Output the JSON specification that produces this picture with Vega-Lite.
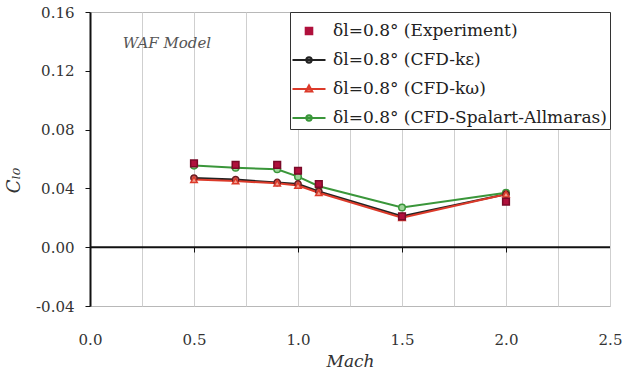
{
  "$schema": "https://vega.github.io/schema/vega-lite/v6.json",
  "width": 520,
  "height": 294,
  "autosize": {"type": "none"},
  "padding": {"left": 90, "top": 12, "right": 23, "bottom": 68},
  "background": "white",
  "config": {
    "font": "DejaVu Serif",
    "view": {"stroke": "#b8b8b8", "strokeWidth": 1},
    "axis": {
      "labelFont": "DejaVu Serif",
      "labelFontSize": 15,
      "labelColor": "#333333",
      "titleFont": "DejaVu Serif",
      "titleFontSize": 17,
      "titleFontStyle": "italic",
      "titleFontWeight": "normal",
      "titleColor": "#333333",
      "gridColor": "#cfcfcf",
      "gridWidth": 1
    }
  },
  "data": {
    "values": [
      {"Mach": 0.5, "Cl": 0.057, "series": "δl=0.8° (Experiment)"},
      {"Mach": 0.7, "Cl": 0.056, "series": "δl=0.8° (Experiment)"},
      {"Mach": 0.9, "Cl": 0.056, "series": "δl=0.8° (Experiment)"},
      {"Mach": 1.0, "Cl": 0.052, "series": "δl=0.8° (Experiment)"},
      {"Mach": 1.1, "Cl": 0.043, "series": "δl=0.8° (Experiment)"},
      {"Mach": 1.5, "Cl": 0.021, "series": "δl=0.8° (Experiment)"},
      {"Mach": 2.0, "Cl": 0.031, "series": "δl=0.8° (Experiment)"},
      {"Mach": 0.5, "Cl": 0.047, "series": "δl=0.8° (CFD-kε)"},
      {"Mach": 0.7, "Cl": 0.046, "series": "δl=0.8° (CFD-kε)"},
      {"Mach": 0.9, "Cl": 0.044, "series": "δl=0.8° (CFD-kε)"},
      {"Mach": 1.0, "Cl": 0.043, "series": "δl=0.8° (CFD-kε)"},
      {"Mach": 1.1, "Cl": 0.038, "series": "δl=0.8° (CFD-kε)"},
      {"Mach": 1.5, "Cl": 0.021, "series": "δl=0.8° (CFD-kε)"},
      {"Mach": 2.0, "Cl": 0.036, "series": "δl=0.8° (CFD-kε)"},
      {"Mach": 0.5, "Cl": 0.046, "series": "δl=0.8° (CFD-kω)"},
      {"Mach": 0.7, "Cl": 0.045, "series": "δl=0.8° (CFD-kω)"},
      {"Mach": 0.9, "Cl": 0.0435, "series": "δl=0.8° (CFD-kω)"},
      {"Mach": 1.0, "Cl": 0.042, "series": "δl=0.8° (CFD-kω)"},
      {"Mach": 1.1, "Cl": 0.037, "series": "δl=0.8° (CFD-kω)"},
      {"Mach": 1.5, "Cl": 0.020, "series": "δl=0.8° (CFD-kω)"},
      {"Mach": 2.0, "Cl": 0.036, "series": "δl=0.8° (CFD-kω)"},
      {"Mach": 0.5, "Cl": 0.0555, "series": "δl=0.8° (CFD-Spalart-Allmaras)"},
      {"Mach": 0.7, "Cl": 0.054, "series": "δl=0.8° (CFD-Spalart-Allmaras)"},
      {"Mach": 0.9, "Cl": 0.053, "series": "δl=0.8° (CFD-Spalart-Allmaras)"},
      {"Mach": 1.0, "Cl": 0.048, "series": "δl=0.8° (CFD-Spalart-Allmaras)"},
      {"Mach": 1.1, "Cl": 0.0415, "series": "δl=0.8° (CFD-Spalart-Allmaras)"},
      {"Mach": 1.5, "Cl": 0.027, "series": "δl=0.8° (CFD-Spalart-Allmaras)"},
      {"Mach": 2.0, "Cl": 0.037, "series": "δl=0.8° (CFD-Spalart-Allmaras)"}
    ]
  },
  "resolve": {"axis": {"x": "independent"}},
  "layer": [
    {
      "data": {"values": [{}]},
      "mark": {"type": "rule", "color": "#111111", "strokeWidth": 2},
      "encoding": {
        "x": {
          "datum": 0,
          "type": "quantitative",
          "scale": {"domain": [0, 2.5], "nice": false, "zero": false},
          "axis": {
            "orient": "bottom",
            "offset": -59,
            "values": [0.5, 1.0, 1.5, 2.0],
            "labels": false,
            "grid": false,
            "domain": false,
            "ticks": true,
            "tickColor": "#111111",
            "tickSize": 5,
            "tickWidth": 1,
            "title": null
          }
        },
        "x2": {"datum": 2.5},
        "y": {"datum": 0, "type": "quantitative"}
      }
    },
    {
      "transform": [{"filter": "indexof(datum.series, 'Experiment') < 0"}],
      "mark": {"type": "line", "strokeWidth": 2},
      "encoding": {
        "x": {
          "field": "Mach",
          "type": "quantitative",
          "scale": {"domain": [0, 2.5], "nice": false, "zero": false},
          "axis": {
            "orient": "bottom",
            "values": [0, 0.25, 0.5, 0.75, 1.0, 1.25, 1.5, 1.75, 2.0, 2.25, 2.5],
            "labelExpr": "(datum.value * 2) % 1 === 0 ? format(datum.value, '.1f') : ''",
            "ticks": false,
            "domain": false,
            "grid": true,
            "labelPadding": 26,
            "labelFlush": false,
            "title": "Mach",
            "titlePadding": 6
          }
        },
        "y": {
          "field": "Cl",
          "type": "quantitative",
          "scale": {"domain": [-0.04, 0.16], "nice": false, "zero": false},
          "axis": {
            "values": [-0.04, 0, 0.04, 0.08, 0.12, 0.16],
            "labelExpr": "replace(format(datum.value, '.2f'), '−', '-')",
            "domainColor": "#111111",
            "domainWidth": 2,
            "tickColor": "#111111",
            "tickSize": 5,
            "labelPadding": 11,
            "labelFlush": false,
            "title": "Cₗ₀",
            "titleFontSize": 18,
            "titlePadding": 12,
            "titleY": 168
          }
        },
        "color": {
          "field": "series",
          "type": "nominal",
          "scale": {
            "domain": ["δl=0.8° (Experiment)", "δl=0.8° (CFD-kε)", "δl=0.8° (CFD-kω)", "δl=0.8° (CFD-Spalart-Allmaras)"],
            "range": ["#B0103C", "#222222", "#DC3A2A", "#3A963A"]
          },
          "legend": {
            "title": null,
            "orient": "top-right",
            "offset": 0,
            "padding": 3,
            "rowPadding": 5,
            "strokeColor": "#333333",
            "fillColor": "white",
            "symbolType": "circle",
            "symbolSize": 900,
            "symbolStrokeWidth": 2,
            "labelFont": "DejaVu Serif",
            "labelFontSize": 17,
            "labelColor": "#222222",
            "labelOffset": 8,
            "labelLimit": 400,
            "encode": {
              "symbols": {
                "update": {
                  "shape": {"signal": "indexof(datum.value, 'Experiment') >= 0 ? 'M-0.22,-0.22H0.22V0.22H-0.22Z' : (indexof(datum.value, 'kω') >= 0 ? 'M-1.1,0H1.1M0,-0.24L0.22,0.16H-0.22Z' : 'M-1.1,0H1.1M-0.18,0A0.18,0.18 0 1,0 0.18,0A0.18,0.18 0 1,0 -0.18,0Z')"},
                  "fill": {"signal": "indexof(datum.value, 'Experiment') >= 0 ? '#B0103C' : (indexof(datum.value, 'kε') >= 0 ? '#8a8a8a' : (indexof(datum.value, 'kω') >= 0 ? '#f2a898' : '#9fd49a'))"},
                  "strokeWidth": {"value": 2},
                  "opacity": {"value": 1}
                }
              }
            }
          }
        }
      }
    },
    {
      "mark": {"type": "point", "filled": false, "strokeWidth": 1.5, "opacity": 1},
      "encoding": {
        "x": {"field": "Mach", "type": "quantitative", "axis": null},
        "y": {"field": "Cl", "type": "quantitative"},
        "shape": {
          "field": "series",
          "type": "nominal",
          "scale": {
            "domain": ["δl=0.8° (CFD-kε)", "δl=0.8° (CFD-kω)", "δl=0.8° (CFD-Spalart-Allmaras)", "δl=0.8° (Experiment)"],
            "range": ["circle", "triangle-up", "circle", "square"]
          },
          "legend": null
        },
        "size": {
          "field": "series",
          "type": "nominal",
          "scale": {
            "domain": ["δl=0.8° (CFD-kε)", "δl=0.8° (CFD-kω)", "δl=0.8° (CFD-Spalart-Allmaras)", "δl=0.8° (Experiment)"],
            "range": [40, 45, 40, 95]
          },
          "legend": null
        },
        "stroke": {
          "field": "series",
          "type": "nominal",
          "scale": {
            "domain": ["δl=0.8° (CFD-kε)", "δl=0.8° (CFD-kω)", "δl=0.8° (CFD-Spalart-Allmaras)", "δl=0.8° (Experiment)"],
            "range": ["#6a1a20", "#DC3A2A", "#3A963A", "#7a0a28"]
          },
          "legend": null
        },
        "fill": {
          "field": "series",
          "type": "nominal",
          "scale": {
            "domain": ["δl=0.8° (CFD-kε)", "δl=0.8° (CFD-kω)", "δl=0.8° (CFD-Spalart-Allmaras)", "δl=0.8° (Experiment)"],
            "range": ["#c06060", "#f0a090", "#9fd49a", "#B0103C"]
          },
          "legend": null
        },
        "order": {"field": "series", "sort": "ascending"}
      }
    },
    {
      "data": {"values": [{}]},
      "mark": {"type": "text", "text": "WAF Model", "font": "DejaVu Serif", "fontStyle": "italic", "fontSize": 15, "color": "#555555"},
      "encoding": {
        "x": {"datum": 0.37, "type": "quantitative", "axis": null},
        "y": {"datum": 0.139, "type": "quantitative"}
      }
    }
  ]
}
